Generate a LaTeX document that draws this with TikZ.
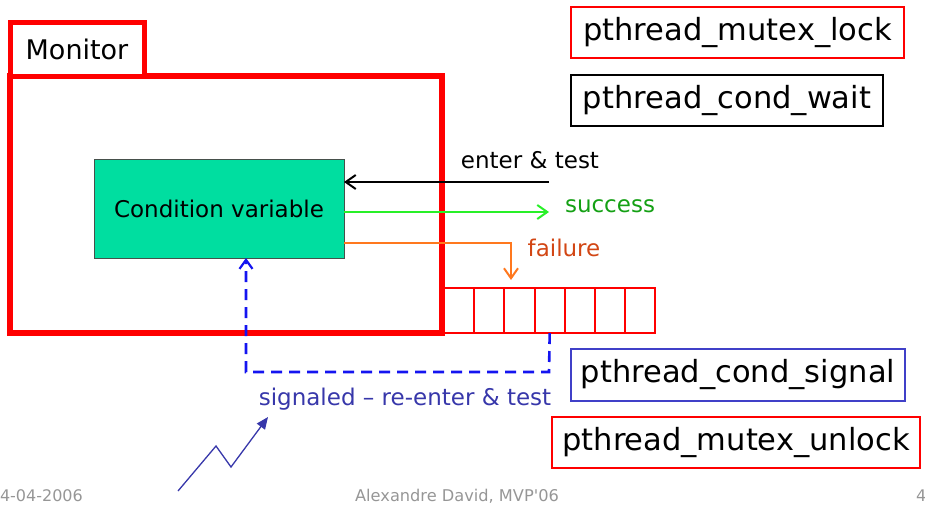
\documentclass[tikz,border=0pt]{standalone}
\usepackage{fontspec}
\setmainfont{DejaVu Sans}
\usetikzlibrary{arrows.meta,calc}

\definecolor{monred}{RGB}{255,0,0}
\definecolor{cvfill}{RGB}{0,222,160}
\definecolor{cvline}{RGB}{70,80,75}
\definecolor{okline}{RGB}{40,240,40}
\definecolor{oktext}{RGB}{20,160,20}
\definecolor{failline}{RGB}{255,120,30}
\definecolor{failtext}{RGB}{210,70,20}
\definecolor{sigline}{RGB}{20,20,240}
\definecolor{sigtext}{RGB}{55,55,170}
\definecolor{sigbox}{RGB}{64,64,200}
\definecolor{footgray}{RGB}{150,150,150}

\tikzset{
  plain/.style={inner sep=0pt, outer sep=0pt},
  apibox/.style={draw, line width=2pt, inner sep=0pt, outer sep=0pt,
    font=\fontsize{30.5}{34}\selectfont},
  label23/.style={inner sep=0pt, font=\fontsize{23}{27}\selectfont},
  qcell/.style={draw=monred, line width=2pt, minimum width=30.2pt,
    minimum height=45pt, inner sep=0pt, outer sep=0pt},
  flow/.style={line width=2.4pt},
  barb/.style={-{Straight Barb[length=10pt,width=14pt,line width=2pt]}},
}

\begin{document}
\begin{tikzpicture}[x=1pt,y=-1pt]
\useasboundingbox (0,0) rectangle (925,506);

% the monitor and its label tab
\node[plain, draw=monred, line width=6pt, minimum width=432pt, minimum height=257pt]
  (monitor) at (226,204.5) {};
\node[plain, draw=monred, line width=5pt, fill=white, minimum width=134pt, minimum height=54pt,
  font=\fontsize{27}{31}\selectfont] (montab) at (77,49) {Monitor};

% the condition variable
\node[plain, draw=cvline, line width=1pt, fill=cvfill, minimum width=250pt, minimum height=99pt,
  font=\fontsize{23}{27}\selectfont] (cv) at (219,208.5) {Condition variable};

% waiting queue
\node[qcell] (q1) at (459.1,310.5) {};
\foreach \i [remember=\i as \j (initially 1)] in {2,...,7}
  \node[qcell, anchor=west] (q\i) at (q\j.east) {};

% API calls
\node[apibox, draw=monred, minimum width=333pt, minimum height=51pt] (lock) at (737.5,32.5) {pthread\_mutex\_lock};
\node[apibox, draw=black, minimum width=312pt, minimum height=51pt] (wait) at (727,100.5) {pthread\_cond\_wait};
\node[apibox, draw=sigbox, minimum width=334pt, minimum height=52pt] (signal) at (738,375) {pthread\_cond\_signal};
\node[apibox, draw=monred, minimum width=368pt, minimum height=51pt] (unlock) at (736,442.5) {pthread\_mutex\_unlock};

% arrow labels
\node[label23] (entertxt) at (530,160) {enter \& test};
\node[label23, text=oktext] (oktxt) at (610,206) {success};
\node[label23, text=failtext] (failtxt) at (564,248) {failure};
\node[label23, text=sigtext] (sigtxt) at (405,399) {signaled – re-enter \& test};

% free ends of the connectors
\coordinate (enterin) at (549,182);
\coordinate (okout) at (549,212);
\coordinate (failbend) at (511,243);
\coordinate (failend) at (511,280);
\coordinate (sigturn) at (549,372);
\coordinate (sigcorner) at (246,372);

% enter & test
\draw[flow, black, barb] (enterin) -- (cv.east |- enterin);
% success
\draw[flow, okline, barb] (cv.east |- okout) -- (okout);
% failure
\draw[flow, failline, barb] (cv.east |- failbend) -- (failbend) -- (failend);
% signaled: back from the queue into the condition variable
\draw[line width=2.6pt, sigline, dash pattern=on 11pt off 7pt,
  -{Straight Barb[length=9pt,width=13pt,line width=2.2pt]}]
  (q4.south) -- (sigturn) -- (sigcorner) -- (sigcorner |- cv.south);

% signal stroke
\coordinate (z0) at (178,491);
\coordinate (z1) at (216,446);
\coordinate (z2) at (231,467);
\coordinate (z3) at (268,417);
\draw[line width=1.3pt, sigtext, -{Triangle[length=12pt,width=10pt]}]
  (z0) -- (z1) -- (z2) -- (z3);

% footer
\node[plain, anchor=west, text=footgray, font=\fontsize{16}{19}\selectfont] (date) at (0,496) {4-04-2006};
\node[plain, text=footgray, font=\fontsize{16.2}{19}\selectfont] (author) at (457,496) {Alexandre David, MVP\textquotesingle06};
\node[plain, anchor=west, text=footgray, font=\fontsize{16}{19}\selectfont] (page) at (916,496) {4};
\end{tikzpicture}
\end{document}
